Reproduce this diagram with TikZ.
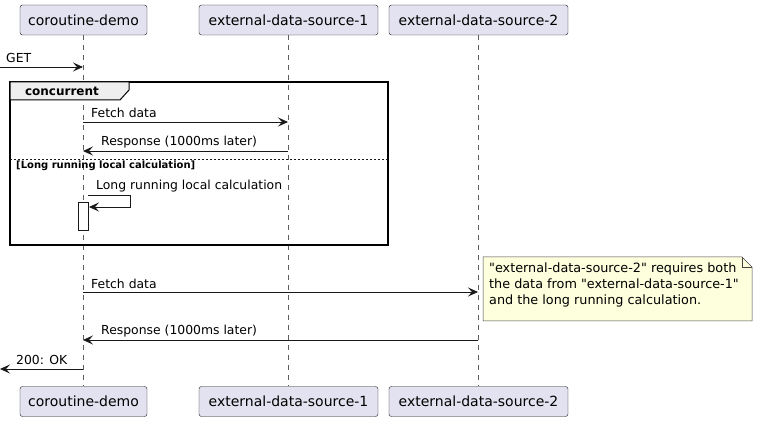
\documentclass[tikz,border=0pt]{standalone}
\usepackage{fontspec}
\setmainfont{DejaVu Sans}
\usetikzlibrary{arrows.meta}
\usetikzlibrary{positioning}
\definecolor{partfill}{HTML}{E2E2F0}
\definecolor{notefill}{HTML}{FEFFDD}
\definecolor{tabfill}{HTML}{EEEEEE}
\definecolor{ink}{HTML}{181818}
\newcommand{\qt}{\textquotedbl}

\begin{document}
\begin{tikzpicture}[x=1pt,y=-1pt,
	part/.style={draw=ink, fill=partfill, rounded corners=2.5pt, minimum height=30pt,
		inner sep=0pt, font=\fontsize{14}{16}\selectfont},
	life/.style={draw=ink!70, line width=0.5pt, dash pattern=on 5pt off 5pt},
	msg/.style={draw=ink, line width=0.8pt, -{Stealth[length=10pt,width=9pt,inset=4pt]}},
	lbl/.style={anchor=west, inner sep=0pt, font=\fontsize{12.4}{14}\selectfont}]
\useasboundingbox (0,0) rectangle (761,422);
% participants
\node [part, minimum width=127pt] (cd) at (83.5,20) {coroutine-demo};
\node [part, minimum width=179pt] (ds1) at (288.5,20) {external-data-source-1};
\node [part, minimum width=179pt] (ds2) at (478.5,20) {external-data-source-2};
\node [part, minimum width=127pt] (cdb) at (83.5,401.5) {coroutine-demo};
\node [part, minimum width=179pt] (ds1b) at (288.5,401.5) {external-data-source-1};
\node [part, minimum width=179pt] (ds2b) at (478.5,401.5) {external-data-source-2};
\draw [life] (83,35) -- (83,386);
\draw [life] (288,35) -- (288,386);
\draw [life] (478,35) -- (478,386);
% concurrent frame
\draw [line width=1.5pt] (10,82) rectangle (388,245);
\draw [fill=tabfill, line width=1pt] (10,82) -- (129,82) -- (129,90) -- (120,100) -- (10,100) -- cycle;
\node [inner sep=0pt, font=\bfseries\fontsize{12}{14}\selectfont] (fr) at (62,91) {concurrent};
\draw [ink, line width=0.5pt, dash pattern=on 2pt off 2pt] (10,159) -- (388,159);
\node [anchor=west, inner sep=0pt, font=\bfseries\fontsize{10}{12}\selectfont] (alt) at (16,166) {[Long running local calculation]};
% message ends
\coordinate (g0) at (0,67);
\coordinate (g1) at (83,67);
\coordinate (f0) at (83,122);
\coordinate (f1) at (288,122);
\coordinate (r0) at (288,151);
\coordinate (r1) at (83,151);
\coordinate (s0) at (88,195);
\coordinate (s1) at (89,207);
\coordinate (h0) at (83,292);
\coordinate (h1) at (478,292);
\coordinate (k0) at (478,340);
\coordinate (k1) at (83,340);
\coordinate (o0) at (83,369);
\coordinate (o1) at (0,369);
% messages
\draw [msg] (g0) -- (g1);
\node [lbl] (gl) at (6,58) {GET};
\draw [msg] (f0) -- (f1);
\node [lbl] (fl) at (91,113) {Fetch data};
\draw [msg] (r0) -- (r1);
\node [lbl] (rl) at (101,142) {Response (1000ms later)};
\draw [fill=white, draw=ink, line width=0.6pt] (78,202) rectangle (88,230);
\draw [msg] (s0) -- (130,195) -- (130,207) -- (s1);
\node [lbl] (sl) at (96,186) {Long running local calculation};
\draw [msg] (h0) -- (h1);
\node [lbl] (hl) at (91,284) {Fetch data};
\draw [msg] (k0) -- (k1);
\node [lbl] (kl) at (101,331) {Response (1000ms later)};
\draw [msg] (o0) -- (o1);
\node [lbl] (ol) at (16,360) {200: OK};
% note
\draw [fill=notefill, draw=ink!80, line width=0.5pt] (483,257) -- (742,257) -- (752,267) -- (752,321) -- (483,321) -- cycle;
\draw [draw=ink!80, line width=0.5pt] (742,257) -- (742,267) -- (752,267);
\node [anchor=north west, inner sep=0pt, align=left, font=\fontsize{12.8}{16}\selectfont] (nt) at (489,263)
	{\qt external-data-source-2\qt{} requires both\\the data from \qt external-data-source-1\qt\\and the long running calculation.};
\end{tikzpicture}
\end{document}
